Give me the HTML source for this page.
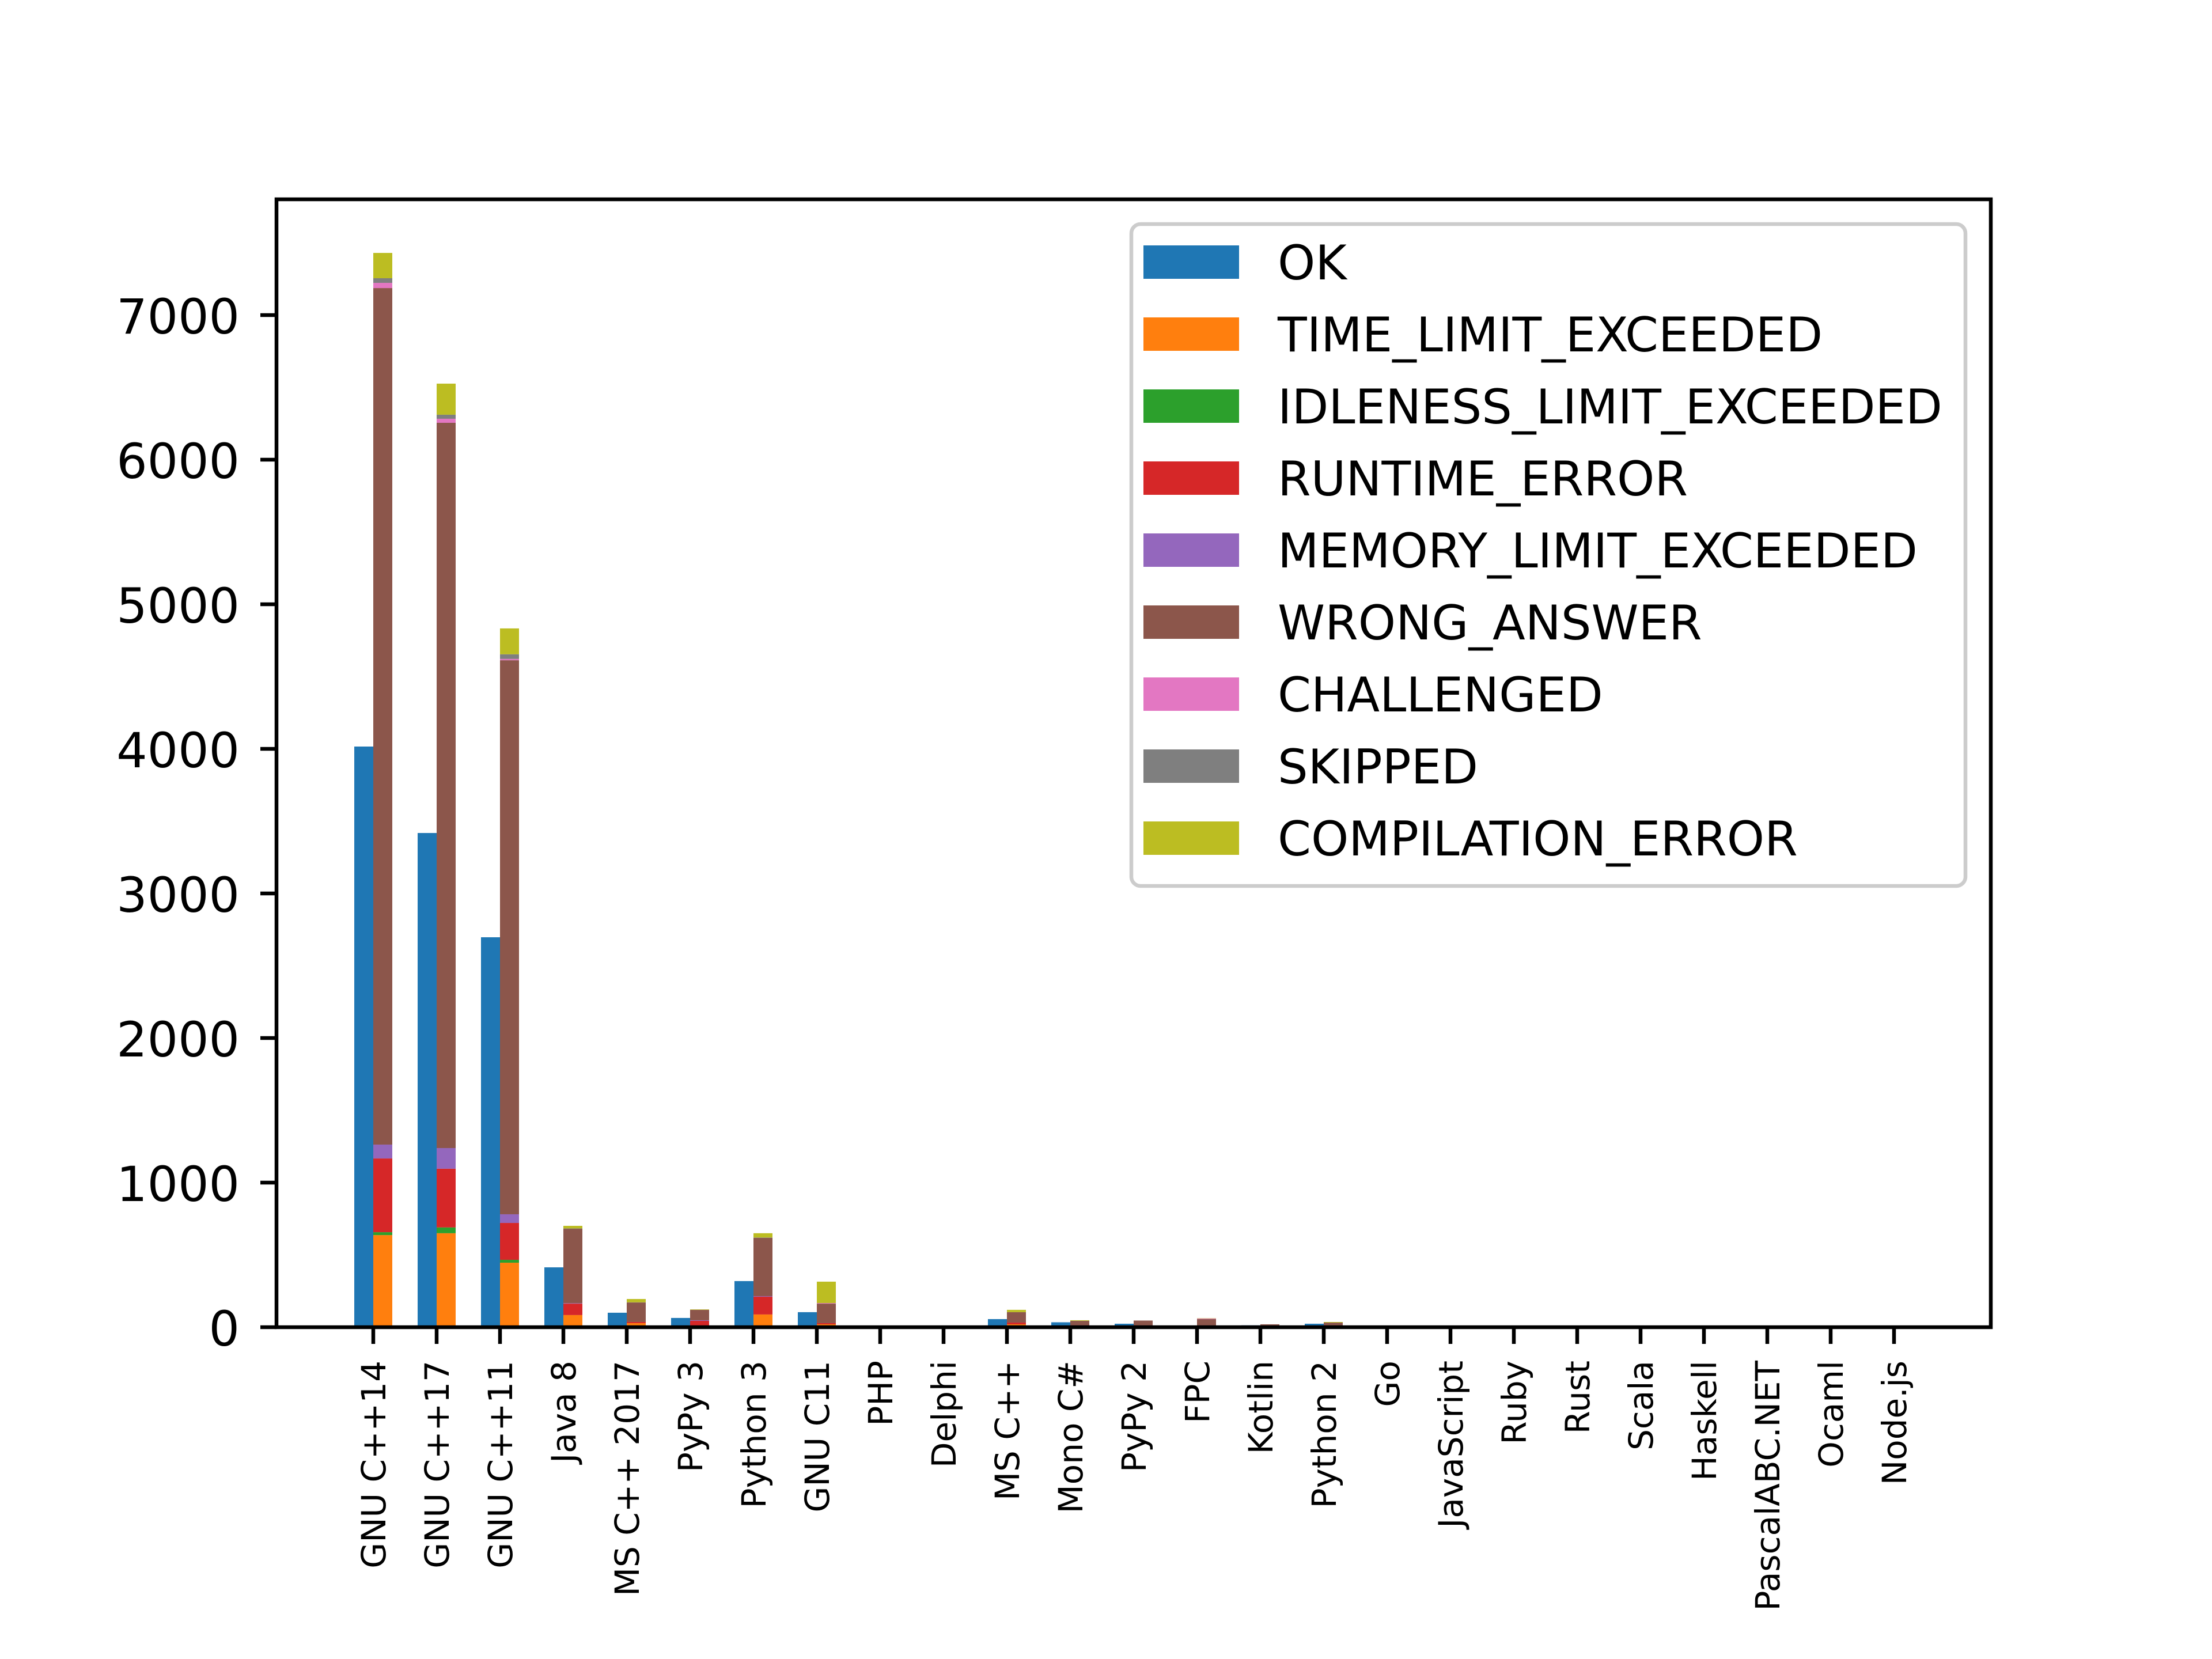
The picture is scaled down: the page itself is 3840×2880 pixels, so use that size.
<!DOCTYPE html>
<html><head><meta charset="utf-8"><style>
html,body{margin:0;padding:0;background:#fff;}
svg{display:block;}
text{font-family:"DejaVu Sans","Liberation Sans",sans-serif;fill:#000;}
</style></head><body>
<svg id="s" width="3840" height="2880" viewBox="0 0 3840 2880" xmlns="http://www.w3.org/2000/svg">
<rect width="3840" height="2880" fill="#fff"/>
<g id="bars"></g>
<g stroke="#000" stroke-width="6.5">
<line x1="452" y1="2304" x2="480" y2="2304"/>
<line x1="452" y1="2053" x2="480" y2="2053"/>
<line x1="452" y1="1802" x2="480" y2="1802"/>
<line x1="452" y1="1551" x2="480" y2="1551"/>
<line x1="452" y1="1300" x2="480" y2="1300"/>
<line x1="452" y1="1049" x2="480" y2="1049"/>
<line x1="452" y1="798" x2="480" y2="798"/>
<line x1="452" y1="547" x2="480" y2="547"/>
</g>
<g font-size="84" text-anchor="end">
<text x="416" y="2336">0</text>
<text x="416" y="2085">1000</text>
<text x="416" y="1834">2000</text>
<text x="416" y="1583">3000</text>
<text x="416" y="1332">4000</text>
<text x="416" y="1081">5000</text>
<text x="416" y="830">6000</text>
<text x="416" y="579">7000</text>
</g>
<g id="xt" stroke="#000" stroke-width="6.5"></g>
<g font-size="58" text-anchor="end">
<text transform="translate(648,2362) rotate(-90)" dy="0.36em">GNU C++14</text>
<text transform="translate(758,2362) rotate(-90)" dy="0.36em">GNU C++17</text>
<text transform="translate(868,2362) rotate(-90)" dy="0.36em">GNU C++11</text>
<text transform="translate(978,2362) rotate(-90)" dy="0.36em">Java 8</text>
<text transform="translate(1088,2362) rotate(-90)" dy="0.36em">MS C++ 2017</text>
<text transform="translate(1198,2362) rotate(-90)" dy="0.36em">PyPy 3</text>
<text transform="translate(1308,2362) rotate(-90)" dy="0.36em">Python 3</text>
<text transform="translate(1418,2362) rotate(-90)" dy="0.36em">GNU C11</text>
<text transform="translate(1528,2362) rotate(-90)" dy="0.36em">PHP</text>
<text transform="translate(1638,2362) rotate(-90)" dy="0.36em">Delphi</text>
<text transform="translate(1748,2362) rotate(-90)" dy="0.36em">MS C++</text>
<text transform="translate(1858,2362) rotate(-90)" dy="0.36em">Mono C#</text>
<text transform="translate(1968,2362) rotate(-90)" dy="0.36em">PyPy 2</text>
<text transform="translate(2078,2362) rotate(-90)" dy="0.36em">FPC</text>
<text transform="translate(2188,2362) rotate(-90)" dy="0.36em">Kotlin</text>
<text transform="translate(2298,2362) rotate(-90)" dy="0.36em">Python 2</text>
<text transform="translate(2408,2362) rotate(-90)" dy="0.36em">Go</text>
<text transform="translate(2518,2362) rotate(-90)" dy="0.36em">JavaScript</text>
<text transform="translate(2628,2362) rotate(-90)" dy="0.36em">Ruby</text>
<text transform="translate(2738,2362) rotate(-90)" dy="0.36em">Rust</text>
<text transform="translate(2848,2362) rotate(-90)" dy="0.36em">Scala</text>
<text transform="translate(2958,2362) rotate(-90)" dy="0.36em">Haskell</text>
<text transform="translate(3068,2362) rotate(-90)" dy="0.36em">PascalABC.NET</text>
<text transform="translate(3178,2362) rotate(-90)" dy="0.36em">Ocaml</text>
<text transform="translate(3288,2362) rotate(-90)" dy="0.36em">Node.js</text>
</g>
<rect x="480" y="346" width="2976" height="1958" fill="none" stroke="#000" stroke-width="6.5"/>
<rect x="1964" y="389" width="1448" height="1149" rx="16" fill="#fff" fill-opacity="0.8" stroke="#cccccc" stroke-width="6.5"/>
<g>
<rect x="1985" y="426" width="166" height="58" fill="#1f77b4"/>
<rect x="1985" y="551" width="166" height="58" fill="#ff7f0e"/>
<rect x="1985" y="676" width="166" height="58" fill="#2ca02c"/>
<rect x="1985" y="801" width="166" height="58" fill="#d62728"/>
<rect x="1985" y="926" width="166" height="58" fill="#9467bd"/>
<rect x="1985" y="1051" width="166" height="58" fill="#8c564b"/>
<rect x="1985" y="1176" width="166" height="58" fill="#e377c2"/>
<rect x="1985" y="1301" width="166" height="58" fill="#7f7f7f"/>
<rect x="1985" y="1426" width="166" height="58" fill="#bcbd22"/>
</g>
<g font-size="83">
<text x="2218" y="485">OK</text>
<text x="2218" y="610">TIME_LIMIT_EXCEEDED</text>
<text x="2218" y="735">IDLENESS_LIMIT_EXCEEDED</text>
<text x="2218" y="860">RUNTIME_ERROR</text>
<text x="2218" y="985">MEMORY_LIMIT_EXCEEDED</text>
<text x="2218" y="1110">WRONG_ANSWER</text>
<text x="2218" y="1235">CHALLENGED</text>
<text x="2218" y="1360">SKIPPED</text>
<text x="2218" y="1485">COMPILATION_ERROR</text>
</g>
</svg>
<script>
(function(){
var NS="http://www.w3.org/2000/svg";
var cols=["#1f77b4","#ff7f0e","#2ca02c","#d62728","#9467bd","#8c564b","#e377c2","#7f7f7f","#bcbd22"];
var d=[
[4016,[637,657,1167,1263,7187,7223,7255,7430]],
[3418,[650,690,1096,1239,6255,6283,6311,6526]],
[2697,[446,466,721,781,4613,4622,4654,4833]],
[414,[84,84,163,166,681,681,683,701]],
[100,[28,28,36,36,171,171,172,195]],
[64,[8,8,44,48,120,120,120,123]],
[319,[88,88,211,215,618,618,620,650]],
[104,[20,20,28,28,163,167,167,315]],
[0,[0,0,0,0,0,0,0,0]],
[0,[0,0,0,0,0,0,0,0]],
[56,[20,20,32,32,104,104,104,120]],
[34,[0,0,0,0,44,44,44,48]],
[24,[2,2,8,8,46,46,46,46]],
[2,[0,0,0,0,56,60,60,62]],
[13,[0,0,0,0,20,20,20,20]],
[24,[0,0,6,6,32,32,32,36]]
];
var g=document.getElementById("bars");
function r(x,y0,y1,c){ if(y1<=y0)return; var e=document.createElementNS(NS,"rect");
e.setAttribute("x",x);e.setAttribute("width",33);
var t=2304-y1*0.251,b=2304-y0*0.251;
e.setAttribute("y",t);e.setAttribute("height",b-t);e.setAttribute("fill",c);g.appendChild(e);}
for(var i=0;i<d.length;i++){var x=648+110*i;
r(x-33,0,d[i][0],cols[0]);var p=0;
for(var k=0;k<8;k++){r(x,p,d[i][1][k],cols[k+1]);p=Math.max(p,d[i][1][k]);}}
var xt=document.getElementById("xt");
for(var j=0;j<25;j++){var l=document.createElementNS(NS,"line");var xx=648+110*j;
l.setAttribute("x1",xx);l.setAttribute("x2",xx);l.setAttribute("y1",2304);l.setAttribute("y2",2333);xt.appendChild(l);}
})();
</script>
</body></html>
